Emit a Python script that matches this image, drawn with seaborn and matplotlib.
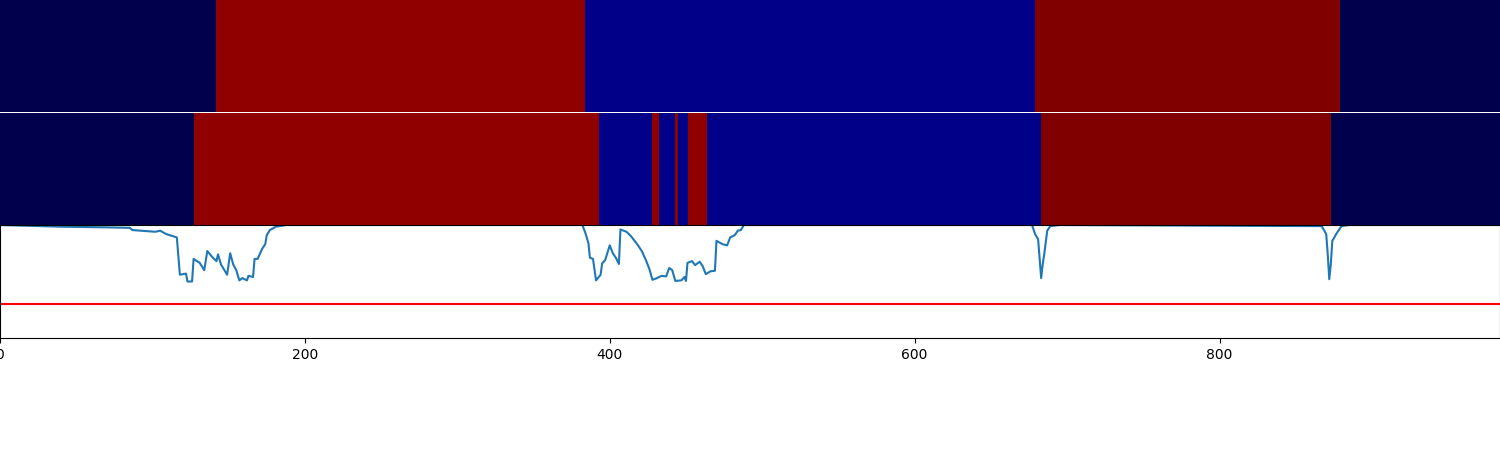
import numpy as np
import matplotlib
matplotlib.use("Agg")
import matplotlib.pyplot as plt
from matplotlib.colors import ListedColormap
import seaborn as sns

# Segment data (frame where each segment starts + class id), total frames
n_frames = 984
gt_starts = [0, 142, 384, 679, 879]
gt_labels = [0, 2, 1, 3, 0]
pred_starts = [0, 127, 393, 428, 432, 443, 445, 451, 464, 683, 873]
pred_labels = [0, 2, 1, 2, 1, 2, 1, 2, 1, 3, 0]

# class colours (seismic-like)
class_colors = ["#00004c", "#000088", "#910000", "#800000"]

# confidence curve
conf_frames = [0, 40, 66, 85, 87, 102, 105, 109, 116, 118, 122, 123, 126, 127,
               131, 134, 136, 139, 142, 143, 145, 149, 151, 153, 155, 157, 159,
               162, 163, 166, 167, 169, 172, 174, 175, 177, 181, 188,
               382, 384, 386, 387, 389, 391, 394, 395, 397, 400, 402, 404, 406,
               407, 411, 414, 418, 421, 424, 426, 428, 431, 434, 437, 439, 441,
               443, 447, 449, 450, 451, 454, 456, 459, 461, 463, 466, 469, 470,
               474, 477, 479, 482, 484, 486, 488, 492,
               677, 679, 681, 683, 684, 685, 687, 689, 695,
               867, 870, 871, 872, 873, 874, 877, 880, 885, 983]
conf_values = [1.0, 0.985, 0.98, 0.975, 0.955, 0.94, 0.95, 0.92, 0.89, 0.56, 0.57, 0.50, 0.50, 0.70,
               0.665, 0.60, 0.77, 0.72, 0.68, 0.74, 0.65, 0.56, 0.75, 0.65, 0.60, 0.51, 0.53,
               0.51, 0.55, 0.54, 0.70, 0.70, 0.79, 0.83, 0.91, 0.955, 0.985, 1.0,
               1.0, 0.93, 0.84, 0.71, 0.70, 0.51, 0.56, 0.66, 0.69, 0.82, 0.75, 0.71, 0.655,
               0.96, 0.94, 0.90, 0.83, 0.77, 0.68, 0.61, 0.515, 0.53, 0.55, 0.545, 0.62, 0.60,
               0.505, 0.51, 0.54, 0.505, 0.665, 0.68, 0.645, 0.675, 0.635, 0.565, 0.59, 0.595, 0.86,
               0.83, 0.82, 0.89, 0.91, 0.95, 0.955, 1.0, 1.0,
               1.0, 0.92, 0.875, 0.53, 0.65, 0.74, 0.95, 0.99, 1.0,
               0.99, 0.92, 0.74, 0.52, 0.65, 0.86, 0.93, 0.99, 1.0, 1.0]
threshold = 0.3


def expand(starts, labels, n):
    lengths = np.diff(starts + [n])
    return np.repeat(labels, lengths)[None, :]


gt_row = expand(gt_starts, gt_labels, n_frames)
pred_row = expand(pred_starts, pred_labels, n_frames)
cmap = ListedColormap(class_colors)

fig = plt.figure(figsize=(15, 4.5), dpi=100)
ax1 = fig.add_axes([0, 0.7511, 1, 0.2489])
ax2 = fig.add_axes([0, 0.5, 1, 0.2489])
ax3 = fig.add_axes([0, 0.2489, 1, 0.2511])

for ax, row in [(ax1, gt_row), (ax2, pred_row)]:
    sns.heatmap(row, ax=ax, cmap=cmap, vmin=-0.5, vmax=3.5, cbar=False,
                xticklabels=False, yticklabels=False, rasterized=True)
    ax.set_xlim(0, n_frames)
    ax.set_xticks([])
    ax.set_yticks([])

sns.lineplot(x=conf_frames, y=conf_values, ax=ax3, color="#1f77b4", linewidth=1.5)
ax3.axhline(threshold, color="red", linewidth=1.5)
ax3.set_xlim(0, n_frames)
ax3.set_ylim(0, 1)
ax3.set_yticks([])
ax3.set_xticks([0, 200, 400, 600, 800])

fig.savefig("out.png", dpi=100)
